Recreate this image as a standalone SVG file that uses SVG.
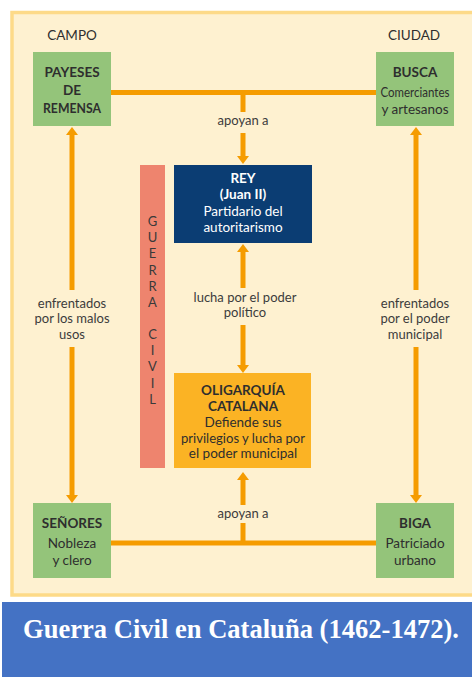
<svg xmlns="http://www.w3.org/2000/svg" width="472" height="677" viewBox="0 0 472 677">
<defs>
<style>
.t{font-family:Lato,"Open Sans","Liberation Sans",sans-serif;font-size:13.5px;fill:#2e2e2e;text-anchor:middle}
.b{font-weight:bold}
.w{fill:#fff}
.lbl{font-family:Lato,"Open Sans","Liberation Sans",sans-serif;font-size:13px;fill:#3c3c3c;text-anchor:middle}
.green{fill:#94c47a}
.conn{stroke:#f59c00;stroke-width:5;fill:none}
.gc{font-family:Lato,"Open Sans","Liberation Sans",sans-serif;font-size:13px;fill:#3a3a3a;text-anchor:middle}
</style>
<marker id="ah" viewBox="0 0 8 12" markerWidth="8" markerHeight="12" refX="0" refY="6" orient="auto" markerUnits="userSpaceOnUse">
<path d="M0,0 L8,6 L0,12 z" fill="#f59c00"/>
</marker>
</defs>
<rect x="0" y="0" width="472" height="677" fill="#ffffff"/>
<rect x="12" y="12.5" width="462" height="582.5" fill="#fef1d0" stroke="#fdda88" stroke-width="3.5"/>
<rect x="2" y="602" width="470" height="75" fill="#4472c4"/>
<text x="23" y="638" font-family="Liberation Serif,serif" font-weight="bold" font-size="26.5" fill="#fff" textLength="436" lengthAdjust="spacingAndGlyphs">Guerra Civil en Cataluña (1462-1472).</text>

<text class="t" x="72" y="40">CAMPO</text>
<text class="t" x="414" y="40">CIUDAD</text>

<g id="connectors">
<path class="conn" d="M111,92.5 H376"/>
<path class="conn" d="M111,543 H376"/>
<path class="conn" d="M243,92.5 V112"/>
<path class="conn" d="M243,133 V156" marker-end="url(#ah)"/>
<path class="conn" d="M243,543 V523"/>
<path class="conn" d="M243,505 V480" marker-end="url(#ah)"/>
<path class="conn" d="M243,288 V252" marker-end="url(#ah)"/>
<path class="conn" d="M243,325 V365" marker-end="url(#ah)"/>
<path class="conn" d="M72,290 V135" marker-end="url(#ah)"/>
<path class="conn" d="M72,347 V495" marker-end="url(#ah)"/>
<path class="conn" d="M416,290 V135" marker-end="url(#ah)"/>
<path class="conn" d="M416,347 V495" marker-end="url(#ah)"/>
<text class="lbl" x="243" y="125">apoyan a</text>
<text class="lbl" x="243" y="518">apoyan a</text>
<text class="lbl" x="245" y="302">lucha por el poder</text>
<text class="lbl" x="245" y="317">político</text>
<text class="lbl" x="72" y="308">enfrentados</text>
<text class="lbl" x="72" y="323">por los malos</text>
<text class="lbl" x="72" y="339">usos</text>
<text class="lbl" x="415" y="308">enfrentados</text>
<text class="lbl" x="415" y="323">por el poder</text>
<text class="lbl" x="415" y="339">municipal</text>
</g>

<g id="payeses">
<rect class="green" x="33" y="52" width="78" height="74"/>
<text class="t b" x="72" y="77">PAYESES</text>
<text class="t b" x="72" y="95">DE</text>
<text class="t b" x="72" y="113" textLength="58" lengthAdjust="spacingAndGlyphs">REMENSA</text>
</g>
<g id="busca">
<rect class="green" x="376" y="52" width="78" height="74"/>
<text class="t b" x="415" y="77">BUSCA</text>
<text class="t" x="415" y="97" textLength="69" lengthAdjust="spacingAndGlyphs">Comerciantes</text>
<text class="t" x="415" y="114">y artesanos</text>
</g>
<g id="senores">
<rect class="green" x="33" y="503" width="78" height="75"/>
<text class="t b" x="72" y="528">SEÑORES</text>
<text class="t" x="72" y="548">Nobleza</text>
<text class="t" x="72" y="565">y clero</text>
</g>
<g id="biga">
<rect class="green" x="376" y="503" width="78" height="75"/>
<text class="t b" x="415" y="528">BIGA</text>
<text class="t" x="415" y="548">Patriciado</text>
<text class="t" x="415" y="565">urbano</text>
</g>
<g id="rey">
<rect x="174" y="165" width="138" height="78" fill="#0b3d73"/>
<text class="t b w" x="243" y="183">REY</text>
<text class="t b w" x="243" y="199">(Juan II)</text>
<text class="t w" x="243" y="216">Partidario del</text>
<text class="t w" x="243" y="232">autoritarismo</text>
</g>
<g id="oligarquia">
<rect x="174" y="373" width="137" height="95" fill="#fbb324"/>
<text class="t b" x="243" y="395">OLIGARQUÍA</text>
<text class="t b" x="243" y="411">CATALANA</text>
<text class="t" x="243" y="427">Defiende sus</text>
<text class="t" x="243" y="443" textLength="124" lengthAdjust="spacingAndGlyphs">privilegios y lucha por</text>
<text class="t" x="243" y="458">el poder municipal</text>
</g>
<g id="guerra-civil">
<rect x="140" y="165" width="25" height="303" fill="#ee846e"/>
<text class="gc" x="152.5" y="226">G</text>
<text class="gc" x="152.5" y="242.2">U</text>
<text class="gc" x="152.5" y="258.4">E</text>
<text class="gc" x="152.5" y="274.6">R</text>
<text class="gc" x="152.5" y="290.8">R</text>
<text class="gc" x="152.5" y="307">A</text>
<text class="gc" x="152.5" y="339">C</text>
<text class="gc" x="152.5" y="355.2">I</text>
<text class="gc" x="152.5" y="371.4">V</text>
<text class="gc" x="152.5" y="387.6">I</text>
<text class="gc" x="152.5" y="403.8">L</text>
</g>
</svg>
